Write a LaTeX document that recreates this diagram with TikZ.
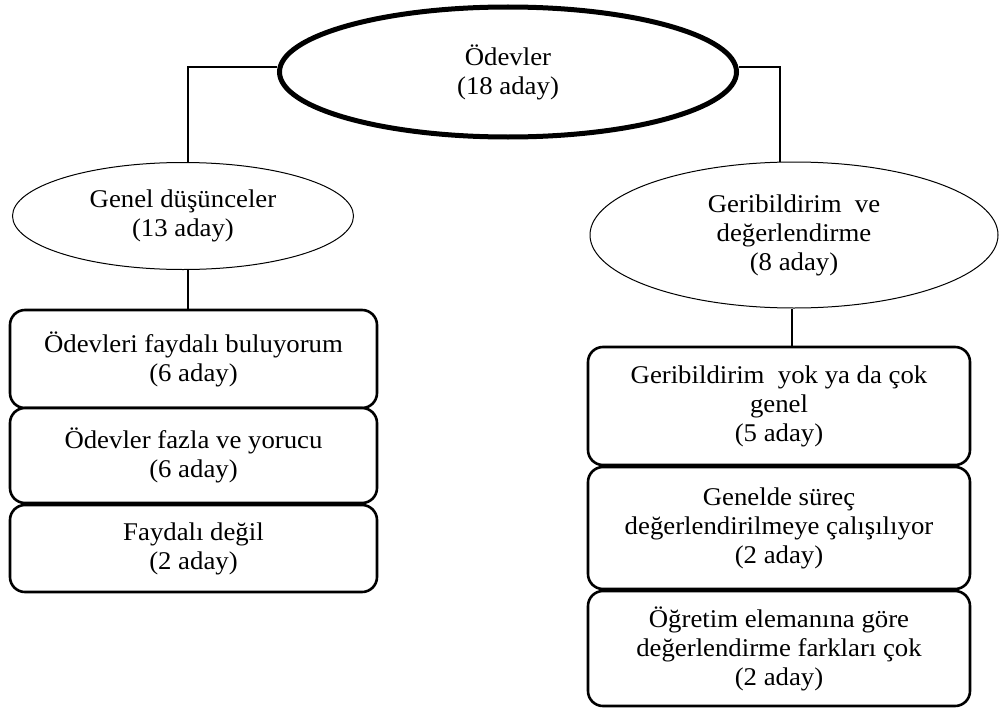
\documentclass[tikz,border=0pt]{standalone}
\usepackage{fontspec}
\setmainfont{Liberation Serif}[FakeStretch=1.05]
\usetikzlibrary{shapes.geometric}

\tikzset{
  every node/.style={font=\fontsize{25.5}{29}\selectfont, align=center, inner sep=0pt},
  oval/.style={ellipse, draw, line width=1pt, fill=white},
  rootoval/.style={ellipse, draw, line width=5pt, fill=white},
  itembox/.style={rectangle, draw, line width=2.6pt, rounded corners=15pt, fill=white},
  thickline/.style={line width=2.6pt},
  thinline/.style={line width=1.2pt},
}

\begin{document}
\begin{tikzpicture}[x=1pt, y=-1pt]
  \useasboundingbox[fill=white] (0,0) rectangle (1000,709);

  % top-level theme
  \node[rootoval, minimum width=457pt, minimum height=130pt] (root) at (508,72)
    {Ödevler\\(18 aday)};

  % second-level themes
  \node[oval, minimum width=341pt, minimum height=107pt] (gd) at (183,216)
    {Genel düşünceler\\(13 aday)};
  \node[oval, minimum width=408pt, minimum height=146pt] (gv) at (794,235)
    {Geribildirim\ \ ve\\değerlendirme\\(8 aday)};

  % left column of codes
  \node[itembox, minimum width=367pt, minimum height=98pt] (l1) at (193.5,359)
    {Ödevleri faydalı buluyorum\\(6 aday)};
  \node[itembox, minimum width=367pt, minimum height=95pt] (l2) at (193.5,455.5)
    {Ödevler fazla ve yorucu\\(6 aday)};
  \node[itembox, minimum width=367pt, minimum height=87pt] (l3) at (193.5,548.5)
    {Faydalı değil\\(2 aday)};

  % right column of codes
  \node[itembox, minimum width=382pt, minimum height=118pt] (r1) at (779,406)
    {Geribildirim\ \ yok ya da çok\\genel\\(5 aday)};
  \node[itembox, minimum width=382pt, minimum height=122pt] (r2) at (779,528)
    {Genelde süreç\\değerlendirilmeye çalışılıyor\\(2 aday)};
  \node[itembox, minimum width=382pt, minimum height=115pt] (r3) at (779,648.5)
    {Öğretim elemanına göre\\değerlendirme farkları çok\\(2 aday)};

  % connectors from the root to the themes
  \draw[thickline] ([yshift=5pt]root.west) -| ([xshift=5pt]gd.north);
  \draw[thickline] ([yshift=5pt]root.east) -| ([xshift=-14pt]gv.north);

  % connectors from the themes to their code lists
  \draw[thinline] ([xshift=5pt]gd.south) -- ([xshift=5pt]gd.south |- l1.north);
  \draw[thinline] ([xshift=-2pt]gv.south) -- ([xshift=-2pt]gv.south |- r1.north);
\end{tikzpicture}
\end{document}
